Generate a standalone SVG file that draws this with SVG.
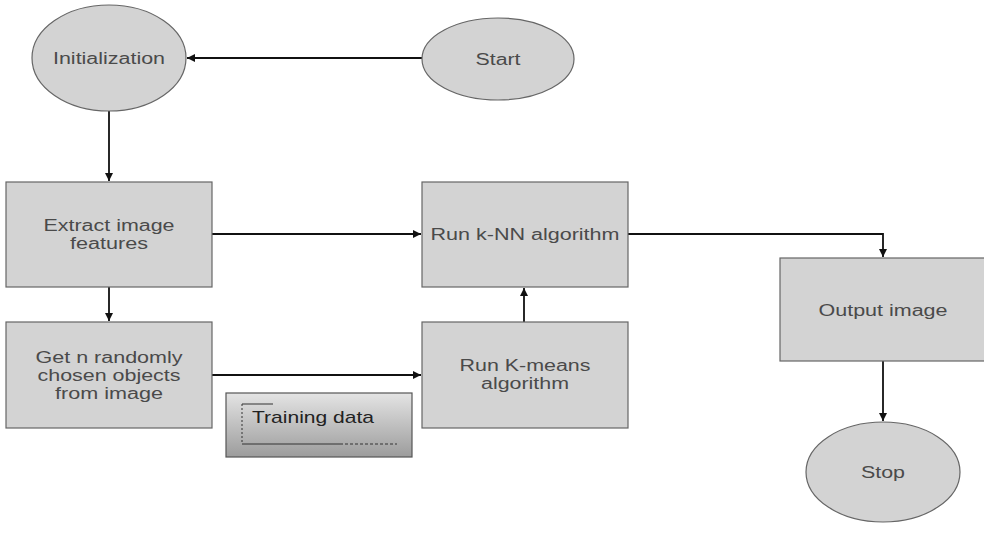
<svg xmlns="http://www.w3.org/2000/svg" width="984" height="543" viewBox="0 0 984 543">
<defs>
<style>
.n{fill:#d3d3d3;stroke:#666;stroke-width:1.2}
.t{font-family:"Liberation Sans",Arial,sans-serif;font-size:16px;fill:#4a4a4a;text-anchor:middle}
.c{stroke:#111;stroke-width:1.8;fill:none;marker-end:url(#ah)}
</style>
<marker id="ah" viewBox="0 0 10 10" refX="10" refY="5" markerWidth="8" markerHeight="8" markerUnits="userSpaceOnUse" orient="auto">
<path d="M0,0 L10,5 L0,10 z" fill="#111"/>
</marker>
<linearGradient id="tg" x1="0" y1="0" x2="0" y2="1">
<stop offset="0" stop-color="#e4e4e4"/>
<stop offset="1" stop-color="#9c9c9c"/>
</linearGradient>
</defs>
<rect width="984" height="543" fill="#fff"/>
<g id="connectors">
<path class="c" d="M422,58 L187,58"/>
<path class="c" d="M109,111 L109,181"/>
<path class="c" d="M212,234 L421,234"/>
<path class="c" d="M109,287 L109,321"/>
<path class="c" d="M212,375 L421,375"/>
<path class="c" d="M524,322 L524,288"/>
<path class="c" d="M628,234 L883,234 L883,257"/>
<path class="c" d="M883,361 L883,421"/>
</g>
<g id="start">
<ellipse class="n" cx="498" cy="59" rx="76" ry="41"/>
<text class="t" x="498" y="65" textLength="45" lengthAdjust="spacingAndGlyphs">Start</text>
</g>
<g id="init">
<ellipse class="n" cx="109" cy="58" rx="77" ry="53"/>
<text class="t" x="109" y="64" textLength="112" lengthAdjust="spacingAndGlyphs">Initialization</text>
</g>
<g id="extract">
<rect class="n" x="6" y="182" width="206" height="105"/>
<text class="t" x="109" y="231" textLength="131" lengthAdjust="spacingAndGlyphs">Extract image</text>
<text class="t" x="109" y="249" textLength="78" lengthAdjust="spacingAndGlyphs">features</text>
</g>
<g id="getn">
<rect class="n" x="6" y="322" width="206" height="106"/>
<text class="t" x="109" y="363" textLength="147" lengthAdjust="spacingAndGlyphs">Get n randomly</text>
<text class="t" x="109" y="381" textLength="143" lengthAdjust="spacingAndGlyphs">chosen objects</text>
<text class="t" x="109" y="399" textLength="108" lengthAdjust="spacingAndGlyphs">from image</text>
</g>
<g id="knn">
<rect class="n" x="422" y="182" width="206" height="105"/>
<text class="t" x="525" y="240" textLength="189" lengthAdjust="spacingAndGlyphs">Run k-NN algorithm</text>
</g>
<g id="kmeans">
<rect class="n" x="422" y="322" width="206" height="106"/>
<text class="t" x="525" y="371" textLength="131" lengthAdjust="spacingAndGlyphs">Run K-means</text>
<text class="t" x="525" y="389" textLength="88" lengthAdjust="spacingAndGlyphs">algorithm</text>
</g>
<g id="training">
<rect x="226" y="393" width="186" height="64" fill="url(#tg)" stroke="#555" stroke-width="1.2"/>
<path d="M242,404 L273,404" stroke="#333" stroke-width="1" fill="none"/>
<path d="M242,404 L242,444" stroke="#333" stroke-width="1" stroke-dasharray="2,2" fill="none"/>
<path d="M242,444 L340,444" stroke="#333" stroke-width="1" fill="none"/>
<path d="M340,444 L397,444" stroke="#333" stroke-width="1" stroke-dasharray="3,2" fill="none"/>
<text x="252" y="423" font-family="'Liberation Sans',Arial,sans-serif" font-size="17" fill="#222" textLength="122" lengthAdjust="spacingAndGlyphs">Training data</text>
</g>
<g id="output">
<rect class="n" x="780" y="258" width="210" height="103"/>
<text class="t" x="883" y="316" textLength="129" lengthAdjust="spacingAndGlyphs">Output image</text>
</g>
<g id="stop">
<ellipse class="n" cx="883" cy="472" rx="77" ry="50"/>
<text class="t" x="883" y="478" textLength="44" lengthAdjust="spacingAndGlyphs">Stop</text>
</g>
</svg>
